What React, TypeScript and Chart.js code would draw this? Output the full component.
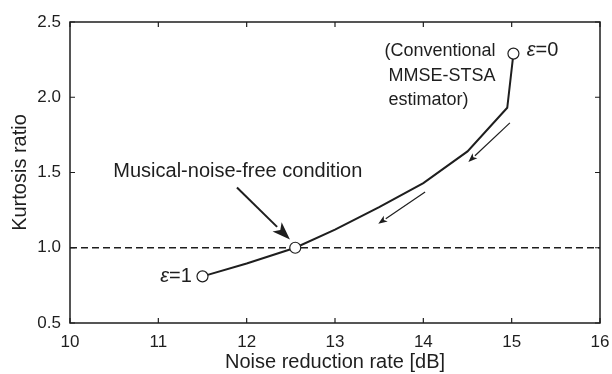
import React, { useEffect, useRef } from "react";
import { Chart, registerables } from "chart.js";

Chart.register(...registerables);

// Curve: noise reduction rate [dB] vs kurtosis ratio
const noiseReduction = [11.5, 12.0, 12.55, 13.0, 13.5, 14.0, 14.5, 14.95, 15.02];
const kurtosisRatio = [0.81, 0.895, 1.0, 1.12, 1.27, 1.43, 1.64, 1.93, 2.29];

// Open-circle markers
const markerX = [11.5, 12.55, 15.02];
const markerY = [0.81, 1.0, 2.29];

// Musical-noise-free reference line
const refX = [10, 16];
const refY = [1.0, 1.0];

// Axis ticks
const xTicks = [10, 11, 12, 13, 14, 15, 16];
const yTicks = [0.5, 1.0, 1.5, 2.0, 2.5];

// Arrows [x0, y0, x1, y1] in data coordinates
const bigArrow = [11.89, 1.4, 12.49, 1.055];
const smallArrows = [
  [14.98, 1.83, 14.51, 1.57],
  [14.02, 1.37, 13.49, 1.16],
];

const FONT = "'Liberation Sans', Arial, sans-serif";
const INK = "#1e1e1e";

function drawArrow(ctx: CanvasRenderingContext2D, x0: number, y0: number, x1: number, y1: number, head: number, hw: number, lw: number) {
  const ang = Math.atan2(y1 - y0, x1 - x0);
  const bx = x1 - head * Math.cos(ang);
  const by = y1 - head * Math.sin(ang);
  ctx.beginPath();
  ctx.lineWidth = lw;
  ctx.moveTo(x0, y0);
  ctx.lineTo(bx, by);
  ctx.stroke();
  ctx.beginPath();
  ctx.moveTo(x1, y1);
  ctx.lineTo(bx + hw * Math.sin(ang), by - hw * Math.cos(ang));
  ctx.lineTo(x1 - head * 0.75 * Math.cos(ang), y1 - head * 0.75 * Math.sin(ang));
  ctx.lineTo(bx - hw * Math.sin(ang), by + hw * Math.cos(ang));
  ctx.closePath();
  ctx.fill();
}

const decorPlugin = {
  id: "decor",
  afterDatasetsDraw(chart: any) {
    const { ctx, chartArea: a, scales } = chart;
    const xs = scales.x;
    const ys = scales.y;
    ctx.save();
    ctx.strokeStyle = INK;
    ctx.fillStyle = INK;
    // frame
    ctx.lineWidth = 1.5;
    ctx.strokeRect(a.left, a.top, a.right - a.left, a.bottom - a.top);
    // inward ticks
    ctx.lineWidth = 1.2;
    const tl = 5;
    ctx.beginPath();
    for (const v of xTicks) {
      const px = xs.getPixelForValue(v);
      ctx.moveTo(px, a.bottom);
      ctx.lineTo(px, a.bottom - tl);
      ctx.moveTo(px, a.top);
      ctx.lineTo(px, a.top + tl);
    }
    for (const v of yTicks) {
      const py = ys.getPixelForValue(v);
      ctx.moveTo(a.left, py);
      ctx.lineTo(a.left + tl, py);
      ctx.moveTo(a.right, py);
      ctx.lineTo(a.right - tl, py);
    }
    ctx.stroke();
    // arrows
    const P = (arr: number[]) => [
      xs.getPixelForValue(arr[0]),
      ys.getPixelForValue(arr[1]),
      xs.getPixelForValue(arr[2]),
      ys.getPixelForValue(arr[3]),
    ];
    const b = P(bigArrow);
    drawArrow(ctx, b[0], b[1], b[2], b[3], 18, 6.5, 2);
    for (const s of smallArrows) {
      const p = P(s);
      drawArrow(ctx, p[0], p[1], p[2], p[3], 9, 3.5, 1.2);
    }
    // texts
    ctx.fillStyle = INK;
    ctx.textBaseline = "middle";
    ctx.font = `20px ${FONT}`;
    ctx.textAlign = "center";
    ctx.fillText("Musical-noise-free condition", xs.getPixelForValue(11.9), ys.getPixelForValue(1.51));
    ctx.font = `18px ${FONT}`;
    ctx.textAlign = "left";
    const cx = xs.getPixelForValue(13.56);
    ctx.fillText("(Conventional", cx, ys.getPixelForValue(2.31));
    ctx.fillText("MMSE-STSA", cx + 4, ys.getPixelForValue(2.143));
    ctx.fillText("estimator)", cx + 4, ys.getPixelForValue(1.98));
    // epsilon labels
    const drawEps = (txt: string, x: number, y: number, align: "left" | "right") => {
      ctx.font = `italic 20px ${FONT}`;
      const w1 = ctx.measureText("ε").width;
      ctx.font = `20px ${FONT}`;
      const w2 = ctx.measureText(txt).width;
      const sx = align === "left" ? x : x - w1 - w2;
      ctx.textAlign = "left";
      ctx.font = `italic 20px ${FONT}`;
      ctx.fillText("ε", sx, y);
      ctx.font = `20px ${FONT}`;
      ctx.fillText(txt, sx + w1, y);
    };
    drawEps("=0", xs.getPixelForValue(15.17), ys.getPixelForValue(2.31), "left");
    drawEps("=1", xs.getPixelForValue(11.38), ys.getPixelForValue(0.81), "right");
    ctx.restore();
  },
};

export default function App() {
  const ref = useRef<HTMLCanvasElement>(null);
  useEffect(() => {
    if (!ref.current) return;
    const chart = new Chart(ref.current, {
      type: "scatter",
      data: {
        datasets: [
          {
            data: refX.map((x, i) => ({ x, y: refY[i] })),
            showLine: true,
            borderColor: INK,
            borderWidth: 1.5,
            borderDash: [7, 4],
            pointRadius: 0,
            order: 3,
          },
          {
            data: noiseReduction.map((x, i) => ({ x, y: kurtosisRatio[i] })),
            showLine: true,
            borderColor: INK,
            borderWidth: 2,
            tension: 0,
            pointRadius: 0,
            order: 2,
          },
          {
            data: markerX.map((x, i) => ({ x, y: markerY[i] })),
            showLine: false,
            pointRadius: 5.5,
            pointBackgroundColor: "#ffffff",
            pointBorderColor: INK,
            pointBorderWidth: 1.2,
            order: 1,
          },
        ],
      },
      options: {
        animation: false,
        responsive: false,
        events: [],
        layout: { padding: { top: 22, right: 12, left: 0, bottom: 0 } },
        plugins: { legend: { display: false }, tooltip: { enabled: false } },
        scales: {
          x: {
            type: "linear",
            min: 10,
            max: 16,
            afterBuildTicks: (s: any) => {
              s.ticks = xTicks.map((v) => ({ value: v }));
            },
            afterFit: (s: any) => {
              s.height = 51;
              s.paddingLeft = 0;
              s.paddingRight = 0;
            },
            grid: { display: false, drawTicks: false },
            border: { display: false },
            ticks: {
              color: INK,
              font: { family: FONT, size: 17 },
              padding: 9,
              maxRotation: 0,
              callback: (v: any) => String(v),
            },
            title: {
              display: true,
              text: "Noise reduction rate [dB]",
              color: INK,
              font: { family: FONT, size: 20 },
              padding: { top: 0, bottom: 0 },
            },
          },
          y: {
            type: "linear",
            min: 0.5,
            max: 2.5,
            afterBuildTicks: (s: any) => {
              s.ticks = yTicks.map((v) => ({ value: v }));
            },
            afterFit: (s: any) => {
              s.width = 70;
              s.paddingTop = 0;
              s.paddingBottom = 0;
            },
            grid: { display: false, drawTicks: false },
            border: { display: false },
            ticks: {
              color: INK,
              font: { family: FONT, size: 17 },
              padding: 9,
              callback: (v: any) => Number(v).toFixed(1),
            },
            title: {
              display: true,
              text: "Kurtosis ratio",
              color: INK,
              font: { family: FONT, size: 20 },
              padding: { top: 8, bottom: 0 },
            },
          },
        },
      },
      plugins: [decorPlugin],
    });
    return () => chart.destroy();
  }, []);
  return (
    <div style={{ position: "fixed", left: 0, top: 0, width: 612, height: 374, background: "#fff" }}>
      <canvas ref={ref} width={612} height={374} style={{ width: 612, height: 374, display: "block" }} />
    </div>
  );
}
